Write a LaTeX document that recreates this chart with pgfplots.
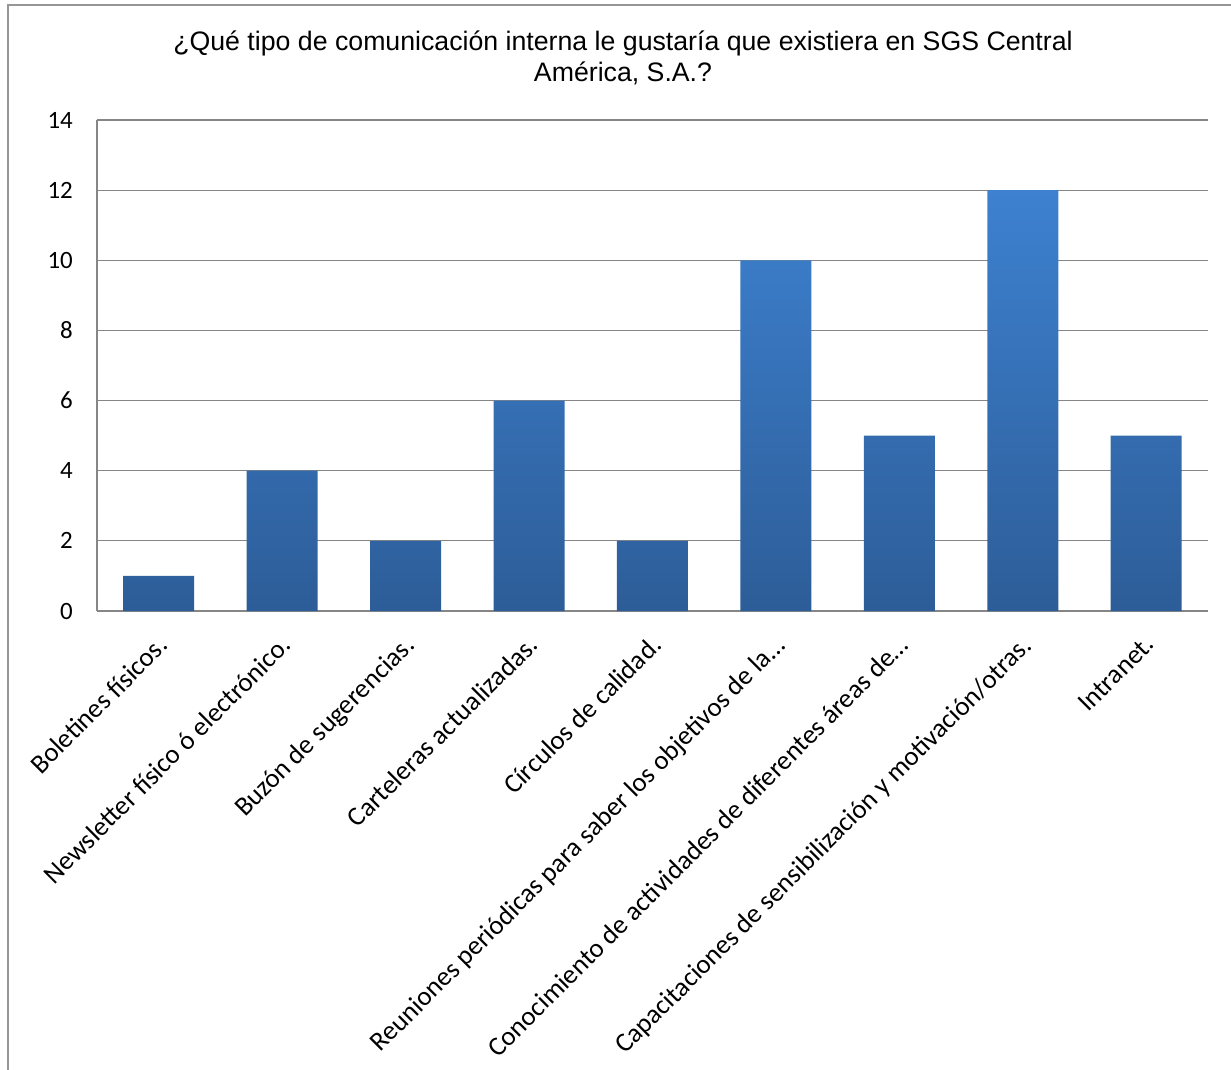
\documentclass[border=0pt]{standalone}
\usepackage{pgfplots}
\pgfplotsset{compat=1.18}
\usepackage{fontspec}
\setmainfont{Carlito}
\newfontfamily\arialf{Liberation Sans}
\definecolor{bartop}{RGB}{61,129,208}
\definecolor{barbot}{RGB}{45,93,152}
\definecolor{gridc}{RGB}{134,134,134}
\definecolor{framec}{RGB}{150,150,150}
\begin{document}
\begin{tikzpicture}
\useasboundingbox (-97bp,-459bp) rectangle (1134bp,611bp);
\draw[framec, line width=1.5bp] (-89bp,-480bp) -- (-89bp,606bp) -- (1150bp,606bp);
\node[font=\arialf\fontsize{26.8}{31}\selectfont, anchor=base, inner sep=0pt] at (526bp,560bp)
  {¿Qué tipo de comunicación interna le gustaría que existiera en SGS Central};
\node[font=\arialf\fontsize{26.8}{31}\selectfont, anchor=base, inner sep=0pt] at (526bp,529bp)
  {América, S.A.?};
\begin{axis}[
  at={(0,0)}, anchor=south west, scale only axis,
  width=1111bp, height=491bp,
  xmin=-0.5, xmax=8.5, ymin=0, ymax=14,
  ytick={0,2,...,14},
  xtick={0,...,8},
  xticklabels={
    Boletines físicos.,
    Newsletter físico ó electrónico.,
    Buzón de sugerencias.,
    Carteleras actualizadas.,
    Círculos de calidad.,
    Reuniones periódicas para saber los objetivos de la…,
    Conocimiento de actividades de diferentes áreas de…,
    Capacitaciones de sensibilización y motivación/otras.,
    Intranet.},
  axis x line*=bottom, axis y line*=left,
  axis line style={gridc, line width=1.5bp},
  ymajorgrids, grid style={gridc, line width=1.2bp},
  major tick length=0pt,
  /pgf/number format/assume math mode=true,
  yticklabel style={font=\fontsize{25}{25}\selectfont, inner sep=0pt, xshift=-24bp},
  xticklabel style={rotate=45, anchor=north east, inner sep=0pt, font=\fontsize{27}{27}\selectfont, xshift=-18bp, yshift=-14bp},
]
\addplot[ybar, bar width=71bp, draw=none, top color=bartop, bottom color=barbot]
  coordinates {(0,1) (1,4) (2,2) (3,6) (4,2) (5,10) (6,5) (7,12) (8,5)};
\end{axis}
\end{tikzpicture}
\end{document}
